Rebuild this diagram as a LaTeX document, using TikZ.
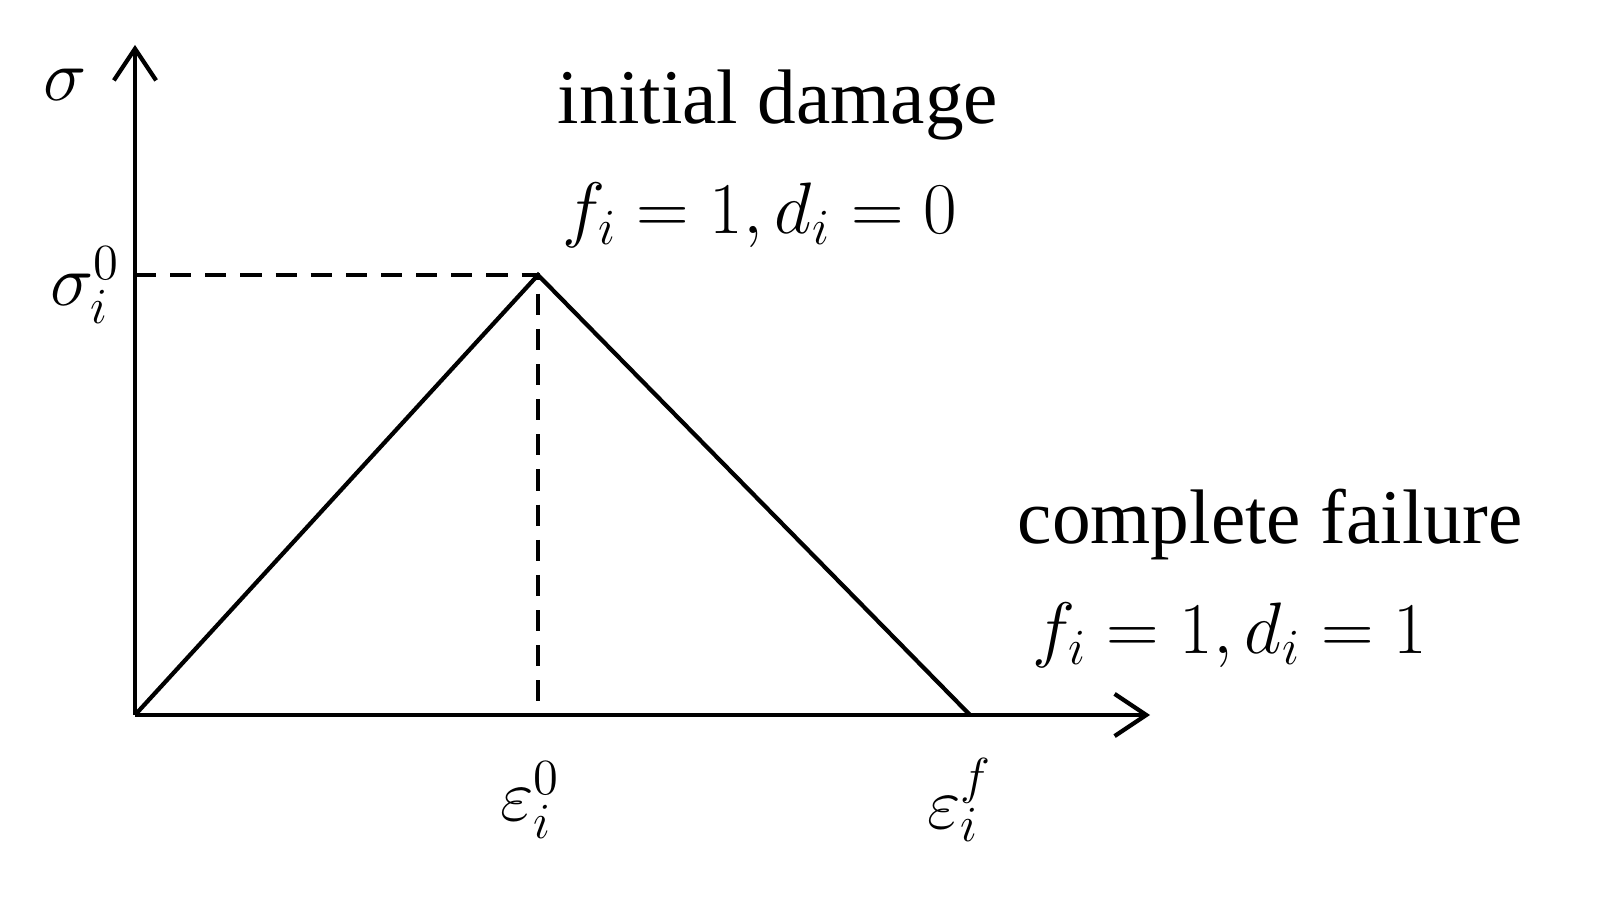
\documentclass[tikz,border=0pt]{standalone}
\usepackage{fontspec}
\setmainfont{Liberation Serif}
\usetikzlibrary{arrows.meta}
\begin{document}
\begin{tikzpicture}[
  ax/.style={line width=1.2pt,-{Straight Barb[length=9pt,width=12pt,line width=1.2pt]}},
  curve/.style={line width=1.2pt},
  guide/.style={line width=1.2pt,dash pattern=on 6pt off 4pt},
  lbl/.style={font=\fontsize{22}{26}\selectfont, inner sep=0pt}]
\coordinate (O) at (1.35,1.98);
\coordinate (Ytop) at (1.35,8.68);
\coordinate (Xend) at (11.5,1.98);
\coordinate (P) at (5.38,6.38);
\coordinate (F) at (9.70,1.98);
\coordinate (Py) at (1.35,6.38);
\coordinate (Px) at (5.38,1.98);
\draw[ax] (O) -- (Ytop);
\draw[ax] (O) -- (Xend);
\draw[curve] (O) -- (P) -- (F);
\draw[guide] (Py) -- (P) -- (Px);
\node[lbl] (s) at (0.65,8.28) {$\sigma$};
\node[lbl] (s0) at (0.85,6.28) {$\sigma_i^0$};
\node[lbl] (e0) at (5.30,1.13) {$\varepsilon_i^0$};
\node[lbl] (ef) at (9.60,1.13) {$\varepsilon_i^f$};
\node[lbl] (id) at (7.78,8.08) {initial damage};
\node[lbl] (idf) at (7.60,6.98) {$f_i=1,d_i=0$};
\node[lbl] (cf) at (12.70,3.88) {complete failure};
\node[lbl] (cff) at (12.30,2.78) {$f_i=1,d_i=1$};
\pgfresetboundingbox
\useasboundingbox (0,0) rectangle (15.97,9.13);
\end{tikzpicture}
\end{document}
